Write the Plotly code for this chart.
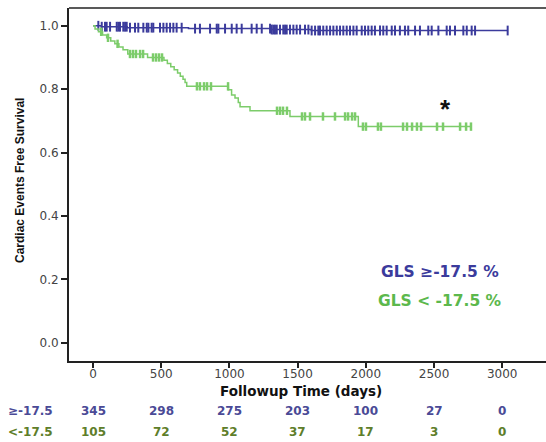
import numpy as np
import plotly.graph_objects as go

# ---- data ----
x_ticks = [0, 500, 1000, 1500, 2000, 2500, 3000]
y_ticks = [0.0, 0.2, 0.4, 0.6, 0.8, 1.0]

# KM step function: GLS >= -17.5 (blue)
blue_step_t = [0, 60, 250, 700, 1300, 1600, 3040]
blue_step_s = [1.0, 0.997, 0.994, 0.991, 0.988, 0.985, 0.985]
blue_censor_t = [39, 64, 88, 100, 125, 174, 186, 198, 222, 235, 247, 271, 308, 332, 369, 394, 406,
                 430, 442, 491, 516, 540, 565, 589, 613, 650, 748, 784, 858, 907, 919, 968, 1017,
                 1053, 1090, 1163, 1200, 1237, 1298, 1310, 1322, 1334, 1347, 1371, 1395, 1408, 1420,
                 1444, 1469, 1493, 1518, 1554, 1579, 1603, 1628, 1652, 1664, 1688, 1713, 1738, 1762,
                 1787, 1811, 1835, 1860, 1884, 1909, 1933, 1970, 1994, 2018, 2043, 2067, 2104, 2128,
                 2153, 2190, 2214, 2250, 2287, 2311, 2361, 2397, 2458, 2483, 2532, 2593, 2617, 2654,
                 2715, 2740, 2776, 2801, 3040]

# KM step function: GLS < -17.5 (green)
green_step_t = [0, 15, 40, 70, 100, 130, 160, 190, 220, 255, 400, 520, 545, 570, 595, 620, 640,
                660, 675, 687, 992, 1016, 1041, 1065, 1078, 1151, 1444, 1945, 2771]
green_step_s = [1.0, 0.990, 0.981, 0.971, 0.962, 0.952, 0.943, 0.933, 0.924, 0.911, 0.900, 0.891,
                0.881, 0.871, 0.861, 0.851, 0.841, 0.831, 0.821, 0.809, 0.798, 0.782, 0.772, 0.758,
                0.745, 0.732, 0.714, 0.682, 0.682]
green_censor_t = [60, 110, 180, 271, 293, 315, 345, 367, 440, 462, 484, 506, 762, 784, 814, 836, 865,
                  990, 1349, 1371, 1393, 1422, 1532, 1554, 1591, 1686, 1774, 1848, 1870, 1899, 1921,
                  1979, 2001, 2089, 2111, 2273, 2302, 2339, 2375, 2405, 2522, 2566, 2691, 2735, 2771]

risk_times = [0, 500, 1000, 1500, 2000, 2500, 3000]
risk_blue = [345, 298, 275, 203, 100, 27, 0]
risk_green = [105, 72, 52, 37, 17, 3, 0]

BLUE = "#3b3b9c"
GREEN = "#7ccc6a"


def km_at(ts, step_t, step_s):
    idx = np.searchsorted(np.array(step_t), np.array(ts), side="right") - 1
    return np.array(step_s)[idx]


fig = go.Figure()
fig.add_trace(go.Scatter(x=blue_step_t, y=blue_step_s, mode="lines", line=dict(color=BLUE, width=1.5, shape="hv"),
                         showlegend=False, hoverinfo="skip"))
fig.add_trace(go.Scatter(x=blue_censor_t, y=km_at(blue_censor_t, blue_step_t, blue_step_s), mode="markers",
                         marker=dict(symbol="line-ns", size=7, line=dict(color=BLUE, width=2)),
                         showlegend=False, hoverinfo="skip"))
fig.add_trace(go.Scatter(x=green_step_t, y=green_step_s, mode="lines", line=dict(color=GREEN, width=1.5, shape="hv"),
                         showlegend=False, hoverinfo="skip"))
fig.add_trace(go.Scatter(x=green_censor_t, y=km_at(green_censor_t, green_step_t, green_step_s), mode="markers",
                         marker=dict(symbol="line-ns", size=6, line=dict(color=GREEN, width=2.5)),
                         showlegend=False, hoverinfo="skip"))

font_tick = dict(family="DejaVu Sans, Verdana", size=12, color="#444444")

fig.update_layout(
    width=546, height=442,
    margin=dict(l=69, r=0, t=8, b=81),
    plot_bgcolor="white", paper_bgcolor="white",
    xaxis=dict(range=[-176, 3321], tickvals=x_ticks, ticktext=[str(v) for v in x_ticks],
               showgrid=False, zeroline=False, showline=True, linecolor="#222222", linewidth=2,
               ticks="outside", ticklen=5, tickwidth=1.5, tickcolor="#222222", tickfont=font_tick,
               ticklabelstandoff=-4),
    yaxis=dict(range=[-0.057, 1.056], tickvals=y_ticks, ticktext=["%.1f" % v for v in y_ticks],
               showgrid=False, zeroline=False, showline=True, linecolor="#222222", linewidth=2,
               ticks="outside", ticklen=6, tickwidth=1.5, tickcolor="#222222", tickfont=font_tick),
)

# top frame line
fig.add_shape(type="line", xref="paper", yref="paper", x0=0, x1=1, y0=1, y1=1,
              line=dict(color="#222222", width=1.5))


def py(pix):
    return (361 - pix) / 353


def px(pix):
    return (pix - 69) / 477


# axis titles
fig.add_annotation(text="<b>Followup Time (days)</b>", xref="paper", yref="paper",
                   x=px(301), y=py(391), xanchor="center", yanchor="middle", showarrow=False,
                   font=dict(family="DejaVu Sans, Verdana", size=13.5, color="#111111"))
fig.add_annotation(text="<b>Cardiac Events Free Survival</b>", xref="paper", yref="paper",
                   x=px(20), y=py(181), xanchor="center", yanchor="middle", showarrow=False, textangle=-90,
                   font=dict(family="Liberation Sans, Arial", size=12, color="#111111"))

# in-plot labels
fig.add_annotation(text="<b>GLS \u2265-17.5 %</b>", xref="paper", yref="paper", x=px(440), y=py(272),
                   showarrow=False, xanchor="center", yanchor="middle",
                   font=dict(family="DejaVu Sans, Verdana", size=15.5, color=BLUE))
fig.add_annotation(text="<b>GLS < -17.5 %</b>", xref="paper", yref="paper", x=px(440), y=py(301),
                   showarrow=False, xanchor="center", yanchor="middle",
                   font=dict(family="DejaVu Sans, Verdana", size=15.5, color="#5cb84c"))
fig.add_annotation(text="<b>*</b>", xref="paper", yref="paper", x=px(445), y=py(109), showarrow=False,
                   xanchor="center", yanchor="middle",
                   font=dict(family="Liberation Sans, Arial", size=26, color="#111111"))

# at-risk table
row_y = [py(411), py(432)]
rows = [("\u2265-17.5", risk_blue, "#4a4a96"), ("<-17.5", risk_green, "#5e7e2a")]
for (lab, vals, col), ry in zip(rows, row_y):
    fig.add_annotation(text="<b>%s</b>" % lab, xref="paper", yref="paper", x=px(6), y=ry,
                       xanchor="left", yanchor="middle", showarrow=False,
                       font=dict(family="DejaVu Sans, Verdana", size=12, color=col))
    for t, v in zip(risk_times, vals):
        fig.add_annotation(text="<b>%d</b>" % v, x=t, xref="x", yref="paper", y=ry, showarrow=False,
                           xanchor="center", yanchor="middle",
                           font=dict(family="DejaVu Sans, Verdana", size=12, color=col))

fig.write_html("out.html")
